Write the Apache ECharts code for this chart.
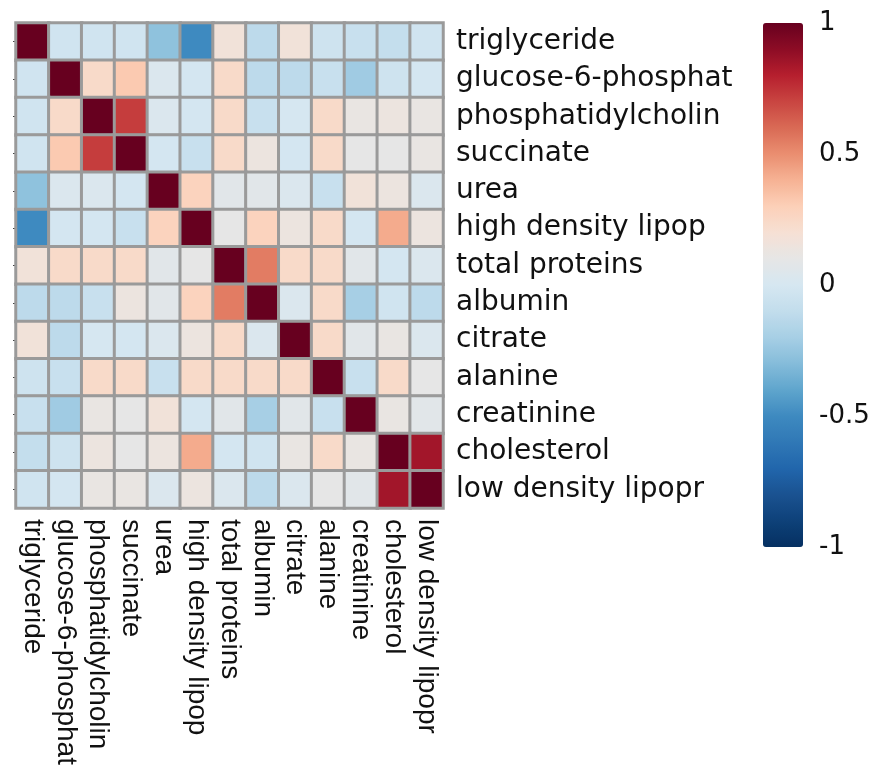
<!DOCTYPE html>
<html>
<head>
<meta charset="utf-8">
<script src="https://cdn.jsdelivr.net/npm/echarts@6/dist/echarts.min.js"></script>
<style>
html,body{margin:0;padding:0;background:#fff;}
#chart{width:886px;height:782px;}
</style>
</head>
<body>
<div id="chart"></div>
<script>
const variables = ['triglyceride','glucose-6-phosphat','phosphatidylcholin','succinate','urea','high density lipop','total proteins','albumin','citrate','alanine','creatinine','cholesterol','low density lipopr'];

// Correlation matrix rows (symmetric)
const r_triglyceride = [1, -0.03, -0.03, -0.03, -0.27, -0.5, 0.17, -0.12, 0.17, -0.04, -0.07, -0.09, -0.03];
const r_glucose6p    = [-0.03, 1, 0.24, 0.32, 0.03, -0.01, 0.24, -0.12, -0.12, -0.07, -0.22, -0.04, -0.01];
const r_phosphatid   = [-0.03, 0.24, 1, 0.72, 0.03, -0.01, 0.24, -0.07, 0.0, 0.24, 0.12, 0.14, 0.12];
const r_succinate    = [-0.03, 0.32, 0.72, 1, -0.01, -0.07, 0.24, 0.14, -0.01, 0.24, 0.1, 0.1, 0.12];
const r_urea         = [-0.27, 0.03, 0.03, -0.01, 1, 0.28, 0.07, 0.07, 0.03, -0.07, 0.17, 0.14, 0.03];
const r_hdl          = [-0.5, -0.01, -0.01, -0.07, 0.28, 1, 0.1, 0.28, 0.14, 0.24, -0.01, 0.42, 0.14];
const r_totprot      = [0.17, 0.24, 0.24, 0.24, 0.07, 0.1, 1, 0.55, 0.24, 0.24, 0.07, -0.01, 0.03];
const r_albumin      = [-0.12, -0.12, -0.07, 0.14, 0.07, 0.28, 0.55, 1, 0.03, 0.24, -0.2, -0.03, -0.12];
const r_citrate      = [0.17, -0.12, 0.0, -0.01, 0.03, 0.14, 0.24, 0.03, 1, 0.24, 0.07, 0.12, 0.03];
const r_alanine      = [-0.04, -0.07, 0.24, 0.24, -0.07, 0.24, 0.24, 0.24, 0.24, 1, -0.07, 0.24, 0.1];
const r_creatinine   = [-0.07, -0.22, 0.12, 0.1, 0.17, -0.01, 0.07, -0.2, 0.07, -0.07, 1, 0.12, 0.07];
const r_cholesterol  = [-0.09, -0.04, 0.14, 0.1, 0.14, 0.42, -0.01, -0.03, 0.12, 0.24, 0.12, 1, 0.85];
const r_ldl          = [-0.03, -0.01, 0.12, 0.12, 0.03, 0.14, 0.03, -0.12, 0.03, 0.1, 0.07, 0.85, 1];

const matrixRows = [r_triglyceride, r_glucose6p, r_phosphatid, r_succinate, r_urea, r_hdl, r_totprot, r_albumin, r_citrate, r_alanine, r_creatinine, r_cholesterol, r_ldl];

const colorbarTicks = [-1, -0.5, 0, 0.5, 1];

// colour stops from -1 to 1 (step 0.1), sampled from the reference colour bar
const palette = ['#053061','#0E4179','#1A5291','#2166AC','#3078B6','#3E8AC0','#5FA5CD','#85BCDA','#A7CFE5','#C2DDEC',
                 '#D6E7F1','#E6E6E6','#F6E0D4','#FCD0B8','#F6B294','#EA8E70','#D96A55','#C94541','#B61F2E','#8D0C25','#67001F'];

const heatData = [];
matrixRows.forEach((row, i) => {
  row.forEach((v, j) => heatData.push([j, i, v]));
});

const chart = echarts.init(document.getElementById('chart'));
const rowFont = {fontFamily: 'DejaVu Sans', fontSize: 28, color: '#111'};
const colFont = {fontFamily: 'Liberation Sans, Arial, sans-serif', fontSize: 28, color: '#111'};
const barFont = {fontFamily: 'DejaVu Sans', fontSize: 26, color: '#111'};

chart.setOption({
  animation: false,
  backgroundColor: '#fff',
  grid: [
    {left: 16, top: 23, width: 427, height: 485},
    {left: 763, top: 23, width: 40, height: 524}
  ],
  xAxis: [
    {
      type: 'category', data: variables, gridIndex: 0, position: 'bottom',
      axisLine: {show: false}, axisTick: {show: false}, splitLine: {show: false},
      axisLabel: Object.assign({rotate: -90, margin: 11, interval: 0}, colFont)
    },
    {type: 'value', gridIndex: 1, show: false, min: 0, max: 1}
  ],
  yAxis: [
    {
      type: 'category', data: variables, gridIndex: 0, position: 'right', inverse: true,
      axisLine: {show: false}, axisTick: {show: false}, splitLine: {show: false},
      axisLabel: Object.assign({margin: 13, interval: 0}, rowFont)
    },
    {
      type: 'category', data: variables, gridIndex: 0, position: 'left', inverse: true,
      axisLine: {show: false}, axisTick: {show: true, alignWithLabel: true, length: 3, lineStyle: {color: '#444'}},
      axisLabel: {show: false}, splitLine: {show: false}
    },
    {
      type: 'value', gridIndex: 1, position: 'right', min: -1, max: 1, interval: 0.5,
      axisLine: {show: false}, axisTick: {show: false}, splitLine: {show: false},
      axisLabel: Object.assign({margin: 16, formatter: v => colorbarTicks.includes(v) ? String(v) : ''}, barFont)
    }
  ],
  visualMap: {
    type: 'continuous', min: -1, max: 1, seriesIndex: 0, calculable: false,
    orient: 'vertical', left: 763, top: 23, itemWidth: 40, itemHeight: 524, padding: 0,
    text: null, showLabel: false,
    inRange: {color: palette}
  },
  series: [{
    type: 'heatmap', xAxisIndex: 0, yAxisIndex: 0, data: heatData,
    itemStyle: {borderColor: '#9a9a9a', borderWidth: 3},
    emphasis: {disabled: true}
  }]
});
</script>
</body>
</html>
